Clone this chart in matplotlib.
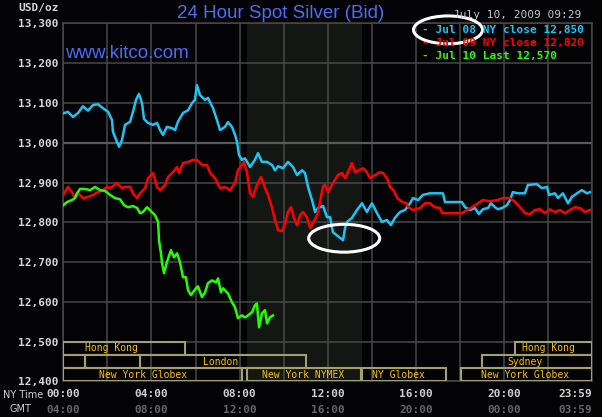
import matplotlib.pyplot as plt
from matplotlib.patches import Ellipse, Rectangle
from matplotlib.transforms import blended_transform_factory

# hours of the NY trading day (0 = 00:00 NY time) and spot bid in USD/oz
jul08_h = [0.00, 0.21, 0.44, 0.67, 0.89, 1.12, 1.35, 1.57, 1.80, 2.03,
           2.21, 2.25, 2.43, 2.53, 2.66, 2.80, 3.03, 3.16, 3.30, 3.43,
           3.57, 3.66, 3.84, 4.07, 4.25, 4.39, 4.52, 4.70, 4.93, 5.07,
           5.20, 5.43, 5.66, 5.84, 5.97, 6.06, 6.20, 6.43, 6.56, 6.79,
           6.97, 7.11, 7.33, 7.47, 7.65, 7.79, 7.88, 7.97, 8.10, 8.24,
           8.47, 8.69, 8.83, 9.01, 9.24, 9.47, 9.60, 9.74, 9.97, 10.19,
           10.42, 10.60, 10.83, 10.96, 11.10, 11.28, 11.42, 11.55, 11.78, 11.96,
           12.10, 12.23, 12.46, 12.69, 12.78, 12.87, 13.09, 13.32, 13.55, 13.77,
           14.00, 14.23, 14.45, 14.68, 14.86, 15.04, 15.27, 15.50, 15.73, 15.86,
           16.09, 16.31, 16.63, 16.95, 17.22, 17.31, 17.67, 18.08, 18.22, 18.45,
           18.67, 18.85, 19.03, 19.26, 19.40, 19.58, 19.71, 19.90, 20.12, 20.26,
           20.39, 20.62, 20.94, 21.07, 21.48, 21.71, 21.94, 22.03, 22.30, 22.44,
           22.66, 22.89, 23.07, 23.30, 23.52, 23.75, 23.88]
jul08_v = [13074, 13078, 13065, 13075, 13092, 13081, 13095, 13097, 13087, 13078,
           13057, 13028, 13003, 12990, 13007, 13045, 13053, 13078, 13108, 13123,
           13100, 13060, 13050, 13045, 13050, 13032, 13020, 13040, 13037, 13032,
           13053, 13075, 13082, 13100, 13108, 13145, 13120, 13108, 13113, 13087,
           13057, 13032, 13040, 13052, 13040, 13020, 13002, 12969, 12957, 12961,
           12939, 12957, 12974, 12952, 12952, 12944, 12931, 12941, 12936, 12952,
           12939, 12919, 12931, 12924, 12889, 12856, 12826, 12836, 12841, 12813,
           12813, 12775, 12765, 12755, 12786, 12801, 12811, 12831, 12848, 12826,
           12848, 12823, 12801, 12806, 12793, 12811, 12826, 12831, 12848, 12861,
           12856, 12869, 12873, 12873, 12873, 12851, 12851, 12851, 12838, 12831,
           12836, 12821, 12833, 12836, 12848, 12838, 12833, 12836, 12843, 12856,
           12876, 12873, 12873, 12894, 12896, 12886, 12889, 12869, 12873, 12861,
           12873, 12848, 12864, 12873, 12881, 12873, 12876]

jul09_h = [0.00, 0.21, 0.39, 0.53, 0.67, 0.89, 1.12, 1.35, 1.57, 1.80,
           1.98, 2.12, 2.25, 2.43, 2.66, 2.80, 3.03, 3.16, 3.35, 3.48,
           3.71, 3.84, 4.07, 4.25, 4.39, 4.62, 4.75, 4.97, 5.16, 5.25,
           5.43, 5.66, 5.88, 6.06, 6.29, 6.52, 6.66, 6.88, 7.11, 7.33,
           7.56, 7.79, 7.92, 8.10, 8.19, 8.33, 8.47, 8.60, 8.78, 8.97,
           9.15, 9.29, 9.47, 9.60, 9.74, 9.92, 10.06, 10.19, 10.33, 10.46,
           10.60, 10.74, 10.87, 11.05, 11.19, 11.33, 11.51, 11.64, 11.78, 11.87,
           12.01, 12.23, 12.46, 12.64, 12.78, 12.91, 13.09, 13.23, 13.41, 13.59,
           13.77, 13.91, 14.14, 14.36, 14.50, 14.68, 14.82, 14.97, 15.15, 15.38,
           15.56, 15.65, 15.86, 16.18, 16.40, 16.63, 16.86, 17.09, 17.18, 17.67,
           18.08, 18.31, 18.54, 18.81, 19.03, 19.35, 19.67, 19.94, 20.26, 20.49,
           20.71, 20.94, 21.17, 21.39, 21.62, 21.85, 22.07, 22.30, 22.53, 22.75,
           22.98, 23.21, 23.43, 23.66, 23.88]
jul09_v = [12869, 12889, 12876, 12861, 12873, 12861, 12864, 12869, 12876, 12881,
           12889, 12886, 12891, 12899, 12886, 12889, 12889, 12873, 12861, 12873,
           12886, 12911, 12924, 12889, 12881, 12894, 12914, 12926, 12939, 12924,
           12949, 12952, 12957, 12957, 12944, 12944, 12924, 12911, 12886, 12889,
           12881, 12899, 12931, 12944, 12952, 12926, 12873, 12864, 12894, 12914,
           12886, 12869, 12836, 12806, 12780, 12778, 12798, 12826, 12838, 12811,
           12793, 12818, 12826, 12813, 12786, 12798, 12818, 12850, 12891, 12894,
           12876, 12899, 12919, 12924, 12911, 12926, 12949, 12926, 12931, 12936,
           12926, 12911, 12919, 12926, 12924, 12911, 12889, 12881, 12861, 12851,
           12848, 12838, 12831, 12836, 12848, 12848, 12838, 12836, 12823, 12823,
           12823, 12831, 12838, 12848, 12856, 12853, 12856, 12861, 12861, 12851,
           12838, 12823, 12821, 12831, 12833, 12823, 12833, 12826, 12831, 12823,
           12831, 12838, 12836, 12826, 12831]

jul10_h = [0.00, 0.17, 0.39, 0.53, 0.62, 0.76, 0.98, 1.21, 1.44, 1.66,
           1.89, 2.12, 2.34, 2.57, 2.76, 2.93, 3.16, 3.35, 3.48, 3.61,
           3.80, 3.98, 4.16, 4.30, 4.34, 4.43, 4.48, 4.57, 4.70, 4.88,
           5.02, 5.16, 5.29, 5.43, 5.56, 5.66, 5.79, 5.88, 6.06, 6.11,
           6.29, 6.43, 6.56, 6.74, 6.93, 7.02, 7.15, 7.24, 7.47, 7.65,
           7.79, 7.92, 8.10, 8.24, 8.38, 8.56, 8.69, 8.78, 8.88, 9.01,
           9.15, 9.24, 9.37, 9.51]
jul10_v = [12843, 12851, 12856, 12861, 12873, 12884, 12884, 12881, 12889, 12881,
           12879, 12869, 12861, 12858, 12843, 12838, 12841, 12836, 12823, 12826,
           12838, 12828, 12818, 12801, 12755, 12722, 12697, 12672, 12700, 12730,
           12712, 12722, 12700, 12662, 12662, 12629, 12617, 12624, 12637, 12639,
           12612, 12624, 12647, 12654, 12649, 12659, 12624, 12634, 12621, 12599,
           12586, 12559, 12566, 12561, 12566, 12574, 12591, 12596, 12536, 12571,
           12579, 12546, 12561, 12566]

legend_labels = ["- Jul 08 NY close 12,850",
                 "- Jul 09 NY close 12,820",
                 "- Jul 10 Last 12,570"]
colors = ["#19c6f4", "#ff0000", "#22ff00"]

ny_ticks = [0, 4, 8, 12, 16, 20, 23.98]
ny_labels = ["00:00", "04:00", "08:00", "12:00", "16:00", "20:00", "23:59"]
gmt_labels = ["04:00", "08:00", "12:00", "16:00", "20:00", "00:00", "03:59"]
price_ticks = [12400, 12500, 12600, 12700, 12800, 12900, 13000, 13100, 13200, 13300]

# market sessions: (label, row, start hour, end hour, label hour)
sessions = [("Hong Kong", 0, 0.0, 5.5, 2.17),
            ("Hong Kong", 0, 20.5, 23.98, 22.02),
            ("", 1, 0.0, 1.0, 0.5),
            ("", 1, 1.0, 3.48, 2.2),
            ("London", 1, 3.48, 11.0, 7.15),
            ("Sydney", 1, 19.0, 23.98, 20.94),
            ("New York Globex", 2, 0.0, 8.1, 3.64),
            ("New York NYMEX", 2, 8.33, 13.5, 10.87),
            ("NY Globex", 2, 13.55, 17.35, 15.18),
            ("New York Globex", 2, 18.05, 23.98, 20.96)]
pit_open, pit_close = 8.33, 13.55

bg = "#030205"
grid_c = "#484848"
plt.rcParams["font.family"] = "DejaVu Sans Mono"

fig = plt.figure(figsize=(6.02, 4.17), dpi=100, facecolor=bg)
ax = fig.add_axes([0.10515, 0.08537, 0.87824, 0.85828])
ax.set_facecolor(bg)
ax.set_xlim(0, 23.98)
ax.set_ylim(12400, 13300)
ax.set_axisbelow(True)

ax.axvspan(pit_open, pit_close, color="#131613", zorder=0.1, lw=0)

ax.set_yticks(price_ticks)
ax.set_yticklabels([f"{v:,}" for v in price_ticks])
ax.set_xticks(ny_ticks)
ax.set_xticklabels(ny_labels)
ax.set_xticks(range(0, 24, 2), minor=True)
ax.tick_params(which="both", length=0)
ax.tick_params(axis="y", pad=3.5, labelsize=8, labelcolor="#d6d6d6")
ax.tick_params(axis="x", pad=5.5, labelsize=8, labelcolor="#d0d0d0")
for lab in ax.get_xticklabels() + ax.get_yticklabels():
    lab.set_fontweight("bold")
ax.get_xticklabels()[-1].set_horizontalalignment("right")
ax.grid(which="both", color=grid_c, lw=1.1)
ax.axhline(13000, color="#5a5a5a", lw=1.6, zorder=0.6)
for s in ax.spines.values():
    s.set_color(grid_c)
    s.set_linewidth(1.1)

# session boxes along the bottom band
row_edges = [12500, 12467, 12433, 12400]
for name, row, h0, h1, hl in sessions:
    top, bot = row_edges[row], row_edges[row + 1]
    ax.add_patch(Rectangle((h0, bot), h1 - h0, top - bot, fill=False,
                           edgecolor="#a3a070", lw=1.5, zorder=3))
    if name:
        ax.text(hl, (top + bot) / 2, name, ha="center", va="center",
                fontsize=7, color="#ffbf00", zorder=4)

for h, v, c in [(jul08_h, jul08_v, colors[0]), (jul09_h, jul09_v, colors[1]),
                (jul10_h, jul10_v, colors[2])]:
    ax.plot(h, v, color=c, lw=1.8, zorder=5)

# GMT row under the NY time labels
tr = blended_transform_factory(ax.transData, ax.transAxes)
for i, (h, lab) in enumerate(zip(ny_ticks, gmt_labels)):
    ax.text(h, -0.08, lab, transform=tr, va="center",
            ha="right" if i == len(ny_ticks) - 1 else "center",
            fontsize=8, fontweight="bold", color="#666666")

fig.text(3 / 602, 1 - 395 / 417, "NY Time", fontsize=7, family="DejaVu Sans",
         color="#d0d0d0", ha="left", va="center")
fig.text(10 / 602, 1 - 409 / 417, "GMT", fontsize=7, family="DejaVu Sans",
         color="#d0d0d0", ha="left", va="center")
fig.text(59 / 602, 1 - 8 / 417, "USD/oz", fontsize=8, fontweight="bold",
         color="#d6d6d6", ha="right", va="center")

fig.text(281 / 602, 1 - 18 / 417, "24 Hour Spot Silver (Bid)", fontsize=13.5,
         family="Liberation Sans", color="#4a6ef4", ha="center", va="baseline")
fig.text(65 / 602, 1 - 58 / 417, "www.kitco.com", fontsize=13.5,
         family="Liberation Sans", color="#4a6ef4", ha="left", va="baseline")
fig.text(581 / 602, 1 - 15 / 417, "July 10, 2009 09:29", fontsize=8,
         color="#c4c4c4", ha="right", va="center")

for i, (lab, c) in enumerate(zip(legend_labels, colors)):
    fig.text(422 / 602, 1 - (30 + 13 * i) / 417, lab, fontsize=8,
             fontweight="bold", color=c, ha="left", va="center")

# white circles drawn on the chart
ax.add_patch(Ellipse((17.45, 13284), 3.13, 70, fill=False, edgecolor="white",
                     lw=2.2, zorder=10, clip_on=False))
ax.add_patch(Ellipse((12.74, 12760), 3.22, 70, fill=False, edgecolor="white",
                     lw=2.2, zorder=10, clip_on=False))

fig.savefig("out.png", dpi=100, facecolor=bg)
